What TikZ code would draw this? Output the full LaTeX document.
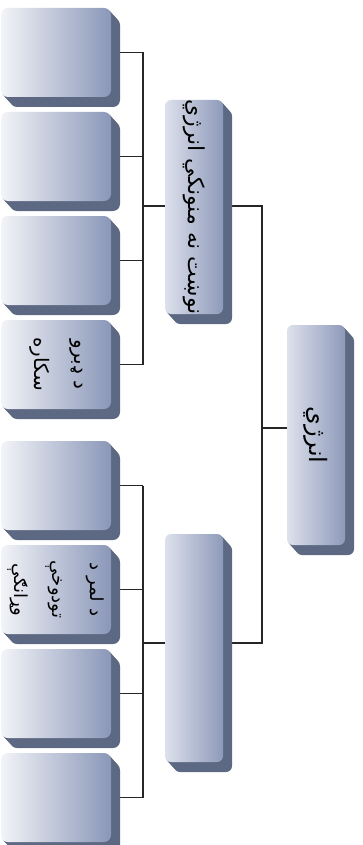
\documentclass[tikz,border=0pt]{standalone}
\usepackage{fontspec}
\newfontfamily\arabicfont[Script=Arabic]{DejaVu Sans}
\TeXXeTstate=1
\usetikzlibrary{shadows,backgrounds}
\definecolor{shc}{HTML}{5D6983}
\definecolor{leafL}{HTML}{F3F4F8}
\definecolor{leafR}{HTML}{8A97B8}
\definecolor{tallL}{HTML}{DDE1EC}
\definecolor{tallR}{HTML}{8E9ABA}
\tikzset{
  extr/.style={
    general shadow={fill=shc,shadow xshift=1pt,shadow yshift=-1.1pt},
    general shadow={fill=shc,shadow xshift=2pt,shadow yshift=-2.2pt},
    general shadow={fill=shc,shadow xshift=3pt,shadow yshift=-3.3pt},
    general shadow={fill=shc,shadow xshift=4pt,shadow yshift=-4.4pt},
    general shadow={fill=shc,shadow xshift=5pt,shadow yshift=-5.5pt},
    general shadow={fill=shc,shadow xshift=6pt,shadow yshift=-6.6pt},
    general shadow={fill=shc,shadow xshift=7pt,shadow yshift=-7.7pt},
    general shadow={fill=shc,shadow xshift=8pt,shadow yshift=-8.8pt},
    general shadow={fill=shc,shadow xshift=9pt,shadow yshift=-10pt}},
  leafbox/.style={extr,rectangle,rounded corners=7pt,left color=leafL,right color=leafR,
    minimum width=110pt,minimum height=89pt,inner sep=0pt},
  tallbox/.style={extr,rectangle,rounded corners=6pt,left color=tallL,right color=tallR,
    minimum width=58pt,inner sep=0pt},
  lbl/.style={rotate=-90,align=center,font=\arabicfont,text=black,inner sep=0pt},
  conn/.style={line width=1.3pt,black!85}
}
\begin{document}
\begin{tikzpicture}[x=1pt,y=-1pt]
\useasboundingbox (0,0) rectangle (363,845);
% leaves
\node[leafbox] (l1) at (56,52.5) {};
\node[leafbox] (l2) at (56,156.5) {};
\node[leafbox] (l3) at (56,260.5) {};
\node[leafbox] (l4) at (56,364.5) {};
\node[leafbox] (l5) at (56,485.5) {};
\node[leafbox] (l6) at (56,589.5) {};
\node[leafbox] (l7) at (56,693.5) {};
\node[leafbox] (l8) at (56,797.5) {};
% middle and root
\node[tallbox,minimum height=214pt] (mt) at (194,207) {};
\node[tallbox,minimum height=228pt] (mb) at (194,648) {};
\node[tallbox,minimum height=220pt] (rt) at (316,435) {};
% labels
\node[lbl,font=\arabicfont\fontsize{22}{26}\selectfont] at (mt) {\beginR نوښت نه منونکي انرژي\endR};
\node[lbl,font=\arabicfont\fontsize{24}{28}\selectfont] at (rt) {\beginR انرژي\endR};
\node[lbl,font=\arabicfont\fontsize{20}{40}\selectfont] at (l4) {\beginR د ډبرو\endR\\\beginR سکاره\endR};
\node[lbl,font=\arabicfont\fontsize{18}{38}\selectfont] at (l6) {\beginR د لمر د\endR\\\beginR تودوخې\endR\\\beginR وړانګې\endR};
% connectors
\coordinate (sT) at (143,206);
\coordinate (sB) at (143,643);
\coordinate (sR) at (262,206);
\coordinate (j) at (262,428);
\coordinate (jb) at (262,643);
\begin{scope}[on background layer]
\foreach \n in {l1,l2,l3,l4}{\draw[conn] (\n.east) -- (\n.east -| sT);}
\foreach \n in {l5,l6,l7,l8}{\draw[conn] (\n.east) -- (\n.east -| sB);}
\draw[conn] (l1.east -| sT) -- (l4.east -| sT);
\draw[conn] (l5.east -| sB) -- (l8.east -| sB);
\draw[conn] (sT) -- (sT -| mt.west);
\draw[conn] (sB) -- (sB -| mb.west);
\draw[conn] (sR -| mt.east) -- (sR) -- (jb) -- (jb -| mb.east);
\draw[conn] (j) -- (j -| rt.west);
\end{scope}
\end{tikzpicture}
\end{document}
